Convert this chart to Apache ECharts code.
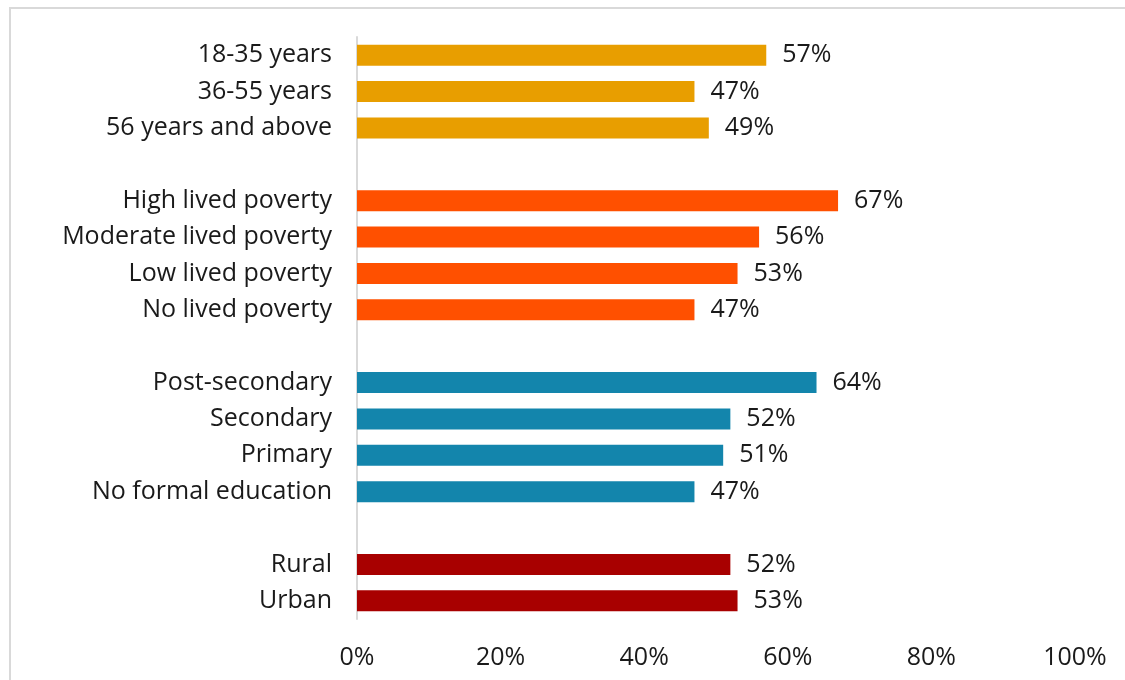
<!DOCTYPE html>
<html>
<head>
<meta charset="utf-8">
<script src="https://cdn.jsdelivr.net/npm/echarts@6/dist/echarts.min.js"></script>
<style>
  html, body { margin: 0; padding: 0; background: #ffffff; }
  #chart { width: 1125px; height: 680px; }
</style>
</head>
<body>
<div id="chart"></div>
<script>
// Row labels, top to bottom; empty strings are spacer rows between groups
const categories = [
  '18-35 years', '36-55 years', '56 years and above', '',
  'High lived poverty', 'Moderate lived poverty', 'Low lived poverty', 'No lived poverty', '',
  'Post-secondary', 'Secondary', 'Primary', 'No formal education', '',
  'Rural', 'Urban'
];
// Percentages per row (null for spacer rows)
const values = [
  57, 47, 49, null,
  67, 56, 53, 47, null,
  64, 52, 51, 47, null,
  52, 53
];
// Group index per row, used to pick the bar colour
const groups = [
  0, 0, 0, null,
  1, 1, 1, 1, null,
  2, 2, 2, 2, null,
  3, 3
];
const groupColors = ['#E89E00', '#FF5000', '#1385AC', '#A80000'];
const xTicks = [0, 20, 40, 60, 80, 100];

const FONT = '"Open Sans", Lato, sans-serif';
const FONT_SIZE = 25;

const chart = echarts.init(document.getElementById('chart'));
chart.setOption({
  animation: false,
  backgroundColor: '#ffffff',
  graphic: [{
    type: 'rect',
    shape: { x: 10, y: 8, width: 1200, height: 700 },
    style: { fill: 'none', stroke: '#d9d9d9', lineWidth: 2 },
    silent: true
  }],
  grid: { left: 357, right: 50, top: 37, bottom: 61, containLabel: false },
  xAxis: {
    type: 'value',
    min: xTicks[0],
    max: xTicks[xTicks.length - 1],
    interval: xTicks[1] - xTicks[0],
    axisLine: { show: false },
    axisTick: { show: false },
    splitLine: { show: false },
    axisLabel: {
      formatter: v => v + '%',
      color: '#1a1a1a',
      fontSize: FONT_SIZE,
      fontFamily: FONT,
      margin: 26
    }
  },
  yAxis: {
    type: 'category',
    inverse: true,
    data: categories,
    axisLine: { show: true, lineStyle: { color: '#d9d9d9', width: 2 } },
    axisTick: { show: false },
    axisLabel: {
      color: '#1a1a1a',
      fontSize: FONT_SIZE,
      fontFamily: FONT,
      margin: 25,
      padding: [4, 0, 0, 0]
    }
  },
  series: [{
    type: 'bar',
    barWidth: 21,
    data: values.map((v, i) => v === null ? null : {
      value: v,
      itemStyle: { color: groupColors[groups[i]] }
    }),
    label: {
      show: true,
      position: 'right',
      distance: 16,
      padding: [4, 0, 0, 0],
      formatter: p => p.value + '%',
      color: '#1a1a1a',
      fontSize: FONT_SIZE,
      fontFamily: FONT
    }
  }]
});
</script>
</body>
</html>
